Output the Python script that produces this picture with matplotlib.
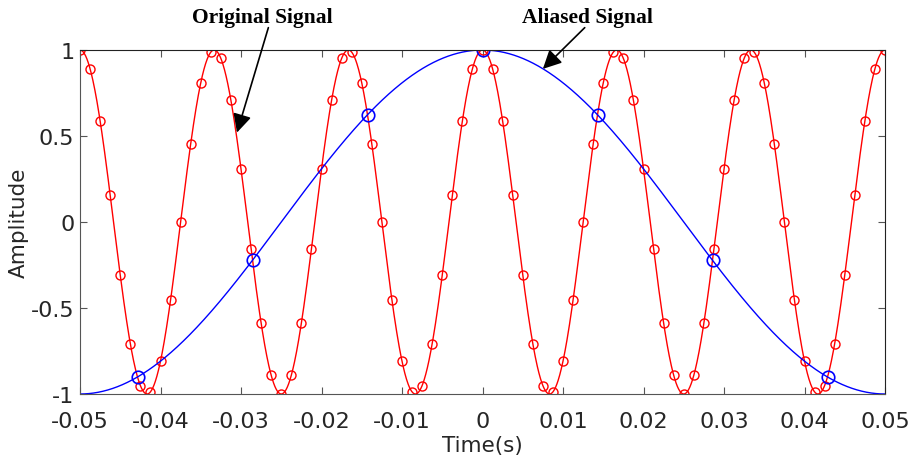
import matplotlib.pyplot as plt
import numpy as np

plt.rcParams['axes.unicode_minus'] = False

# Signal parameters
f_signal = 60.0      # original tone, Hz
f_sample = 70.0      # sampling rate, Hz
f_alias = abs(f_signal - f_sample)   # 10 Hz alias
f_trace = 800.0      # rate used for the marked points on the original trace
t_start, t_end = -0.05, 0.05

x_ticks = [-0.05, -0.04, -0.03, -0.02, -0.01, 0, 0.01, 0.02, 0.03, 0.04, 0.05]
x_ticklabels = ['-0.05', '-0.04', '-0.03', '-0.02', '-0.01', '0', '0.01', '0.02', '0.03', '0.04', '0.05']
y_ticks = [-1, -0.5, 0, 0.5, 1]
y_ticklabels = ['-1', '-0.5', '0', '0.5', '1']

# Time axes
t_fine = np.linspace(t_start, t_end, 2001)
t_trace = np.arange(round((t_end - t_start) * f_trace) + 1) / f_trace + t_start
k = np.arange(np.ceil(t_start * f_sample), np.floor(t_end * f_sample) + 1)
t_samp = k / f_sample

fig = plt.figure(figsize=(9.17, 4.6), dpi=100)
ax = fig.add_axes([80 / 917, 1 - 395 / 460, 805 / 917, 344 / 460])

ax.plot(t_fine, np.cos(2 * np.pi * f_signal * t_fine), color='red', lw=1.0)
ax.plot(t_trace, np.cos(2 * np.pi * f_signal * t_trace), 'o', color='red',
        mfc='none', ms=6.5, mew=1.0)
ax.plot(t_fine, np.cos(2 * np.pi * f_alias * t_fine), color='blue', lw=1.0)
ax.plot(t_samp, np.cos(2 * np.pi * f_alias * t_samp), 'o', color='blue',
        mfc='none', ms=9, mew=1.2)

ax.set_xlim(t_start, t_end)
ax.set_ylim(-1, 1)
ax.set_xticks(x_ticks)
ax.set_xticklabels(x_ticklabels)
ax.set_yticks(y_ticks)
ax.set_yticklabels(y_ticklabels)
ax.tick_params(direction='in', length=5, width=0.8, top=True, right=True,
               labelsize=16, labelcolor='#262626', color='#555555')
ax.tick_params(axis='x', pad=12)
ax.tick_params(axis='y', pad=4)
for side in ['left', 'bottom']:
    ax.spines[side].set_color('#555555')
for side in ['top', 'right']:
    ax.spines[side].set_color('#222222')
ax.set_xlabel('Time(s)', fontsize=15.5, color='#262626')
ax.set_ylabel('Amplitude', fontsize=15.5, color='#262626')
ax.xaxis.set_label_coords(0.5, -0.118)
ax.yaxis.set_label_coords(-0.064, 0.5)

# Callouts
arrow = dict(arrowstyle='-|>', color='black', lw=1.2, mutation_scale=28,
             shrinkA=0, shrinkB=0)
ax.annotate('', xy=(-0.0305, 0.52), xytext=(-0.0266, 1.13), arrowprops=arrow,
            annotation_clip=False)
ax.annotate('', xy=(0.0075, 0.89), xytext=(0.0127, 1.13), arrowprops=arrow,
            annotation_clip=False)
ax.text(-0.0274, 1.19, 'Original Signal', family='Liberation Serif', weight='bold',
        fontsize=15.5, ha='center', va='center')
ax.text(0.013, 1.19, 'Aliased Signal', family='Liberation Serif', weight='bold',
        fontsize=15.5, ha='center', va='center')

fig.savefig('out.png', dpi=100)
